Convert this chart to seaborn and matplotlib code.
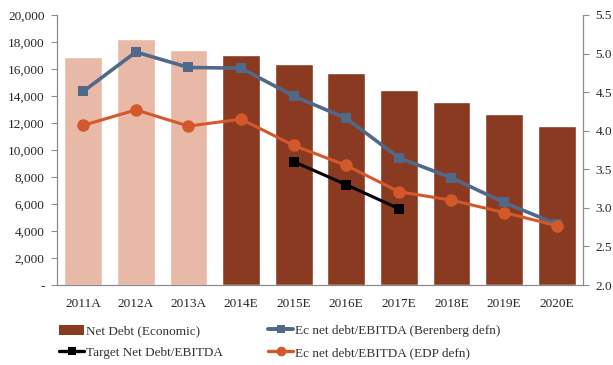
import numpy as np
import pandas as pd
import matplotlib
matplotlib.use("Agg")
import matplotlib.pyplot as plt
from matplotlib.patches import Patch
from matplotlib.lines import Line2D
from matplotlib.ticker import FuncFormatter, FixedLocator
import seaborn as sns

# ---- data ----
years = ["2011A", "2012A", "2013A", "2014E", "2015E", "2016E", "2017E", "2018E", "2019E", "2020E"]
net_debt = [16900, 18250, 17400, 17000, 16400, 15680, 14450, 13550, 12700, 11780]
berenberg_ratio = [4.51, 5.02, 4.82, 4.81, 4.45, 4.16, 3.65, 3.39, 3.07, 2.79]
edp_ratio = [4.07, 4.27, 4.06, 4.15, 3.81, 3.55, 3.21, 3.10, 2.94, 2.77]
target_ratio = [np.nan, np.nan, np.nan, np.nan, 3.60, 3.30, 2.99, np.nan, np.nan, np.nan]
n_actual = 3

LIGHT = "#E9B9A7"
DARK = "#8A3A20"
BLUE = "#50698A"
ORANGE = "#D3582A"
BLACK = "#000000"
SPINE = "#8C8C8C"

sns.set_theme(style="white")
plt.rcParams["font.family"] = ["Liberation Serif", "DejaVu Serif"]
plt.rcParams["text.color"] = "#333333"

pos = np.arange(len(years))
df = pd.DataFrame({
    "year": years,
    "pos": pos,
    "net_debt": net_debt,
    "berenberg": berenberg_ratio,
    "edp": edp_ratio,
    "target": target_ratio,
})
bar_colors = [LIGHT if i < n_actual else DARK for i in range(len(years))]

fig = plt.figure(figsize=(6.13, 3.65), dpi=100)
ax = fig.add_axes([0.093, 0.219, 0.858, 0.740])

sns.barplot(data=df, x="year", y="net_debt", hue="year", palette=bar_colors,
            legend=False, width=0.72, saturation=1, ax=ax, zorder=1)

ax2 = ax.twinx()
sns.lineplot(data=df, x="pos", y="berenberg", color=BLUE, marker="s", markersize=7,
             markeredgewidth=0, linewidth=2.6, ax=ax2, zorder=3)
sns.lineplot(data=df, x="pos", y="edp", color=ORANGE, marker="o", markersize=9,
             markeredgewidth=0, linewidth=2.2, ax=ax2, zorder=4)
sns.lineplot(data=df, x="pos", y="target", color=BLACK, marker="s", markersize=7,
             markeredgewidth=0, linewidth=2.2, ax=ax2, zorder=5)

# axes ranges and ticks
ax.set_xlim(-0.5, len(years) - 0.5)
ax2.set_xlim(-0.5, len(years) - 0.5)
ax.set_ylim(0, 20000)
ax2.set_ylim(2.0, 5.5)
ax.set_yticks(np.arange(0, 20001, 2000))
ax.yaxis.set_major_formatter(FuncFormatter(lambda v, p: "-" if v == 0 else f"{int(v):,}"))
ax2.set_yticks(np.arange(2.0, 5.51, 0.5))
ax2.yaxis.set_major_formatter(FuncFormatter(lambda v, p: f"{v:.1f}"))

ax.set_xticks(pos)
ax.set_xticklabels(years)
ax.xaxis.set_minor_locator(FixedLocator(np.arange(-0.5, len(years), 1.0)))
ax.tick_params(axis="x", which="major", length=0, pad=9, labelsize=9.5)
ax.tick_params(axis="x", which="minor", length=4, width=0.8, color=SPINE, direction="out")
ax.tick_params(axis="y", length=4, width=0.8, color=SPINE, direction="out", labelsize=9.5, pad=5)
ax2.tick_params(axis="y", length=4, width=0.8, color=SPINE, direction="out", labelsize=9.5, pad=5)

for a in (ax, ax2):
    a.set_xlabel("")
    a.set_ylabel("")
    a.grid(False)
    for side in ("left", "right", "bottom"):
        a.spines[side].set_color(SPINE)
        a.spines[side].set_linewidth(0.9)
    a.spines["top"].set_visible(False)
ax.spines["right"].set_visible(False)
ax2.spines["left"].set_visible(False)
ax2.spines["bottom"].set_visible(False)

handles = [
    Patch(facecolor=DARK, edgecolor="none", label="Net Debt (Economic)"),
    Line2D([], [], color=BLACK, marker="s", markersize=6, markeredgewidth=0, linewidth=2.4,
           label="Target Net Debt/EBITDA"),
    Line2D([], [], color=BLUE, marker="s", markersize=6, markeredgewidth=0, linewidth=2.8,
           label="Ec net debt/EBITDA (Berenberg defn)"),
    Line2D([], [], color=ORANGE, marker="o", markersize=7, markeredgewidth=0, linewidth=2.4,
           label="Ec net debt/EBITDA (EDP defn)"),
]
fig.legend(handles=handles, ncol=2, loc="upper left", bbox_to_anchor=(0.088, 0.125),
           frameon=False, fontsize=9.5, handlelength=1.9, handleheight=0.8, handletextpad=0.15,
           columnspacing=3.4, labelspacing=0.7, borderaxespad=0)

fig.savefig("out.png", dpi=100, facecolor="white")
